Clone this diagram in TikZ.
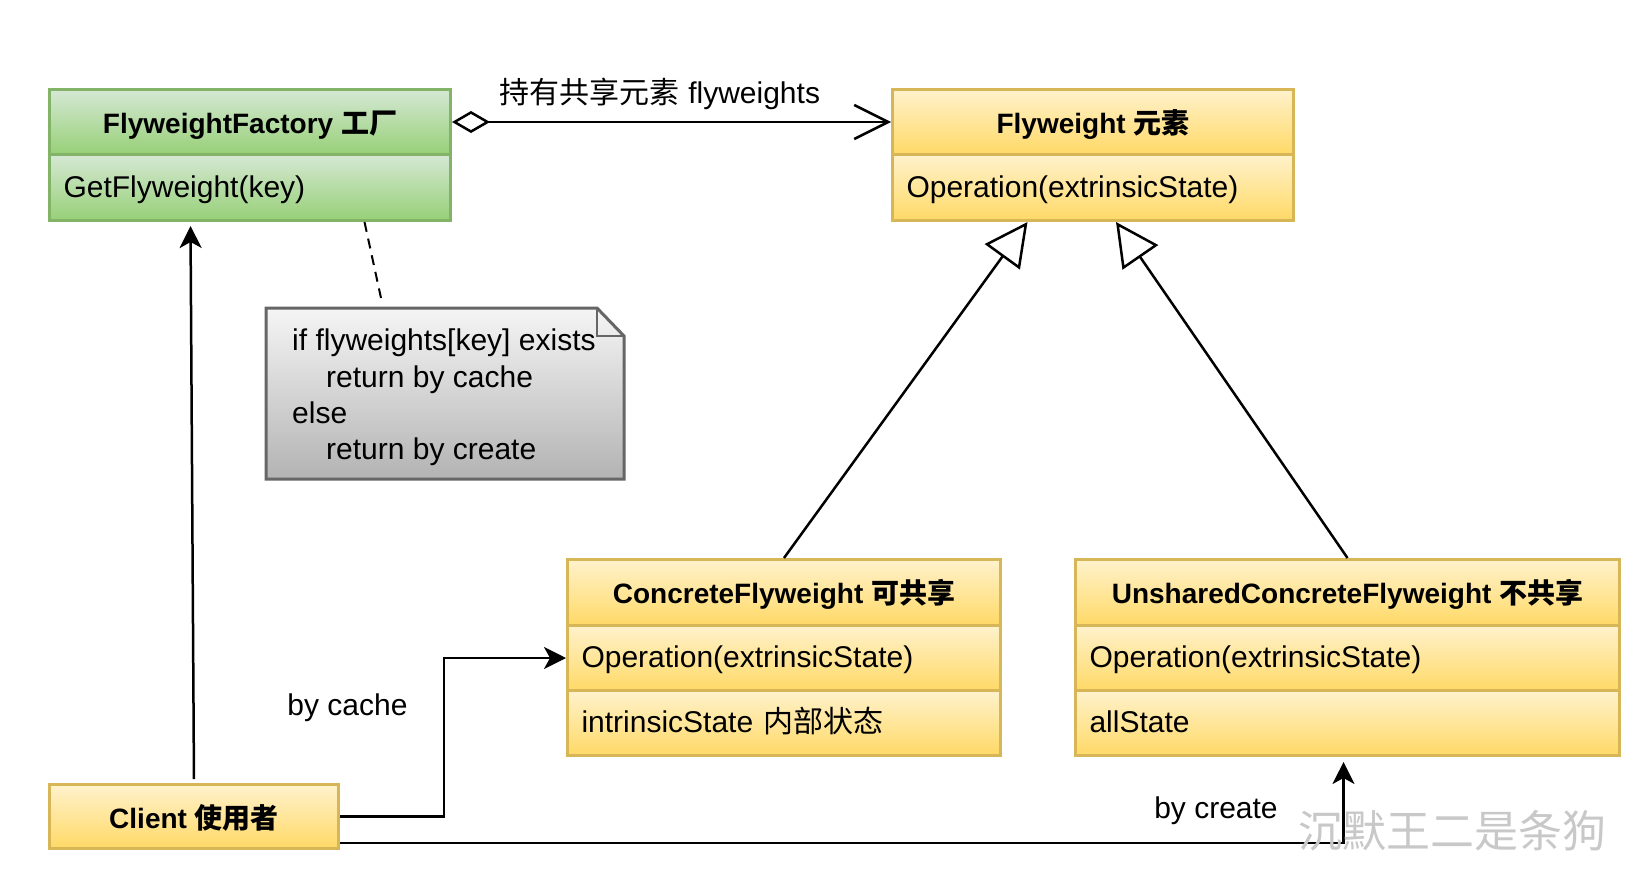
\documentclass[tikz,border=0pt]{standalone}
\usepackage{fontspec}
\setmainfont{Liberation Sans}
\newfontfamily\cjk{Noto Sans CJK SC}
\usetikzlibrary{arrows.meta,calc}
\definecolor{yfill}{HTML}{FFF2CC}
\definecolor{ygrad}{HTML}{FFD966}
\definecolor{ystroke}{HTML}{D6B656}
\definecolor{gfill}{HTML}{D5E8D4}
\definecolor{ggrad}{HTML}{97D077}
\definecolor{gstroke}{HTML}{82B366}
\definecolor{nfill}{HTML}{F5F5F5}
\definecolor{ngrad}{HTML}{B3B3B3}
\definecolor{nstroke}{HTML}{666666}
\definecolor{wm}{HTML}{C8C8C8}
\newcommand\fbody{\fontsize{30}{35}\selectfont}
\newcommand\fnote{\fontsize{30}{36.3}\selectfont}
\newcommand\fhead{\fontsize{28}{33}\selectfont\bfseries}
\tikzset{
  cls/.style={draw=#1stroke, line width=3pt, top color=#1fill, bottom color=#1grad, inner sep=0pt, anchor=north west},
  head/.style={cls=#1, font=\fhead, text height=24pt, text depth=2pt},
  row/.style={cls=#1, font=\fbody, text height=24pt, text depth=5pt, align=left, inner xsep=14pt},
  lab/.style={font=\fbody, text height=25pt, text depth=4pt, inner sep=0pt},
  conn/.style={draw=black, line width=2.5pt},
  filled/.style={-{Stealth[length=22pt,width=22pt,inset=6pt]}},
  gen/.style={-{Triangle[open,length=43pt,width=43pt]}},
}
\begin{document}
\begin{tikzpicture}[x=1pt,y=-1pt]
\useasboundingbox (0,0) rectangle (1640,891);

% FlyweightFactory
\node[head=g, minimum width=401pt, minimum height=65pt] (fact) at (48,88) {FlyweightFactory {\cjk 工厂}};
\node[row=g, minimum width=401pt, minimum height=66pt, text width=373pt] (factop) at (48,153) {GetFlyweight(key)};

% Flyweight
\node[head=y, minimum width=401pt, minimum height=65pt] (fw) at (891,88) {Flyweight {\cjk 元素}};
\node[row=y, minimum width=401pt, minimum height=66pt, text width=373pt] (fwop) at (891,153) {Operation(extrinsicState)};

% ConcreteFlyweight
\node[head=y, minimum width=433pt, minimum height=66pt] (conc) at (566,558) {ConcreteFlyweight {\cjk 可共享}};
\node[row=y, minimum width=433pt, minimum height=65pt, text width=405pt] (concop) at (566,624) {Operation(extrinsicState)};
\node[row=y, minimum width=433pt, minimum height=65pt, text width=405pt] (concst) at (566,689) {intrinsicState {\cjk 内部状态}};

% UnsharedConcreteFlyweight
\node[head=y, minimum width=544pt, minimum height=66pt] (uns) at (1074,558) {UnsharedConcreteFlyweight {\cjk 不共享}};
\node[row=y, minimum width=544pt, minimum height=65pt, text width=516pt] (unsop) at (1074,624) {Operation(extrinsicState)};
\node[row=y, minimum width=544pt, minimum height=65pt, text width=516pt] (unsst) at (1074,689) {allState};

% Client
\node[head=y, minimum width=289pt, minimum height=64pt, text height=25pt, text depth=1pt] (client) at (48,783) {Client {\cjk 使用者}};

% Note
\node[anchor=north west, minimum width=358pt, minimum height=171pt, inner sep=0pt, outer sep=0pt] (note) at (266,308) {};
\path[draw=nstroke, line width=3pt, top color=nfill, bottom color=ngrad]
  (note.north west) -- ($(note.north east)+(-27,0)$) -- ($(note.north east)+(0,28)$)
  -- (note.south east) -- (note.south west) -- cycle;
\draw[nstroke, line width=2.5pt] ($(note.north east)+(-27,0)$) |- ($(note.north east)+(0,28)$);
\node[anchor=north west, align=left, font=\fnote, inner sep=0pt] (notetxt) at (292,329)
  {if flyweights[key] exists\\\hspace*{34pt}return by cache\\else\\\hspace*{34pt}return by create};

% Aggregation
\draw[conn, {Diamond[open,length=38pt,width=22pt]}-{Straight Barb[length=34pt,width=34pt]}] (fact.east) -- (fw.west);
\node[lab] (aggl) at (660,93) {{\cjk 持有共享元素} flyweights};

% Generalizations
\draw[conn, gen] (conc.north) -- ($(fwop.south west)+(136.5,0)$);
\draw[conn, gen] (uns.north) -- ($(fwop.south west)+(225,0)$);

% Dashed note link
\draw[line width=2pt, dash pattern=on 10pt off 7pt] ($(factop.south west)+(316.5,0)$) -- ($(note.north west)+(115,-10)$);

% Client -> Factory
\draw[conn, filled, shorten <=4pt] (client.north) -- ($(factop.south west)+(142.5,4)$);

% by cache
\draw[conn, filled] (client.east) -- ++(104,0) |- (concop.west);
\node[lab] (bycache) at (347.5,705) {by cache};

% by create
\draw[conn, filled] ($(client.south east)+(0,-7)$) -| ($(unsst.south west)+(269.5,5)$);
\node[lab] (bycreate) at (1216,808) {by create};

% watermark
\node[font=\fontsize{44}{44}\selectfont\cjk, text=wm, inner sep=0pt] (wmark) at (1452,831) {沉默王二是条狗};
\end{tikzpicture}
\end{document}
